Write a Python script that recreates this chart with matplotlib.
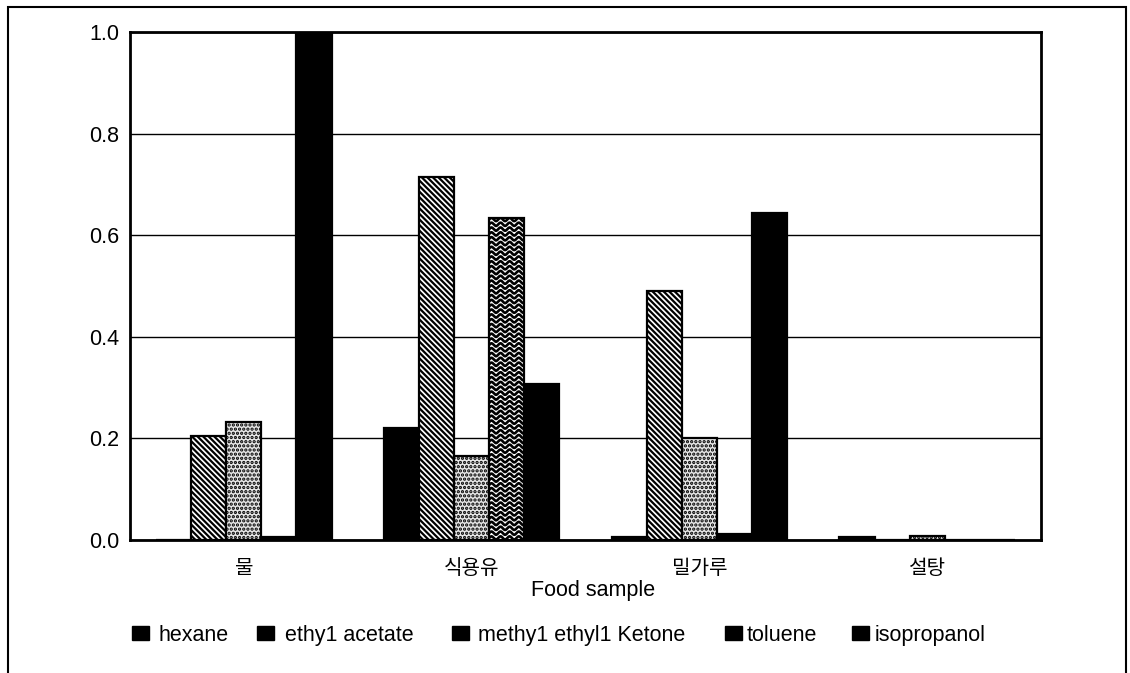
import numpy as np
import matplotlib
matplotlib.use("Agg")
import matplotlib.pyplot as plt
from matplotlib.patches import Rectangle

plt.rcParams["font.family"] = ["Liberation Sans", "Noto Sans CJK KR", "DejaVu Sans"]
plt.rcParams["hatch.linewidth"] = 1.6

CATEGORIES = ["물", "식용유", "밀가루", "설탕"]
SERIES = ["hexane", "ethy1 acetate", "methy1 ethyl1 Ketone", "toluene", "isopropanol"]
HEXANE = [0.0, 0.22, 0.005, 0.006]
ETHYL_ACETATE = [0.204, 0.715, 0.49, 0.0]
MEK = [0.233, 0.165, 0.20, 0.008]
TOLUENE = [0.005, 0.634, 0.012, 0.0]
ISOPROPANOL = [1.0, 0.307, 0.643, 0.0]
VALUES = [HEXANE, ETHYL_ACETATE, MEK, TOLUENE, ISOPROPANOL]

STYLES = [
    dict(facecolor="black", hatch=None),
    dict(facecolor="white", hatch=r"\\\\\\"),
    dict(facecolor="#e6e6e6", hatch="...."),
    dict(facecolor="white", hatch=None),      # wavy fill drawn below
    dict(facecolor="black", hatch=None),
]

fig = plt.figure(figsize=(11.3, 6.73), dpi=100)
ax = fig.add_axes([130/1130, 1 - 540/673, 911/1130, 508/673])

x = np.arange(len(CATEGORIES))
w = 0.154
bars_by_series = []
for i, (vals, st) in enumerate(zip(VALUES, STYLES)):
    bars = ax.bar(x + (i - 2) * w, vals, width=w, facecolor=st["facecolor"],
                  hatch=st["hatch"], edgecolor="black", linewidth=1.6, zorder=3)
    bars_by_series.append(bars)

# wavy pattern for toluene bars, clipped to each bar
for b in bars_by_series[3]:
    h = b.get_height()
    if h < 0.02:
        b.set_facecolor("black")
        continue
    x0, x1 = b.get_x(), b.get_x() + b.get_width()
    xs = np.linspace(x0, x1, 200)
    for yb in np.arange(0.004, h, 0.0095):
        line, = ax.plot(xs, yb + 0.0032 * np.sin(2 * np.pi * (xs - x0) / 0.04),
                        color="black", lw=1.9, zorder=4)
        line.set_clip_path(b)

ax.set_xlim(-0.5, 3.5)
ax.set_ylim(0, 1.0)
ax.set_yticks([0.0, 0.2, 0.4, 0.6, 0.8, 1.0])
ax.set_yticklabels(["0.0", "0.2", "0.4", "0.6", "0.8", "1.0"])
ax.set_xticks(x)
ax.set_xticklabels(CATEGORIES)
ax.tick_params(axis="both", length=0)
ax.tick_params(axis="y", pad=8, labelsize=15.5)
ax.tick_params(axis="x", pad=14, labelsize=14.5)
ax.yaxis.grid(True, color="black", lw=1.0, zorder=0)
ax.set_axisbelow(True)
for s in ax.spines.values():
    s.set_linewidth(2.0)
ax.set_xlabel("Food sample", fontsize=15.5)
ax.xaxis.set_label_coords((593 - 130) / 911, -0.078)

# outer frame
fig.patches.append(Rectangle((8/1130, -0.05), (1126 - 8)/1130, 1.05 - 7/673,
                             transform=fig.transFigure, fill=False,
                             edgecolor="black", lw=1.5))

# legend (all keys printed black)
LEG_SQ_X = [132, 257, 452, 725, 852]
LEG_TX_X = [158, 285, 478, 747, 875]
sq_y = 1 - 640/673
base_y = 1 - 641/673
for name, sx, tx in zip(SERIES, LEG_SQ_X, LEG_TX_X):
    fig.patches.append(Rectangle((sx/1130, sq_y), 17/1130, 14/673,
                                 transform=fig.transFigure, facecolor="black",
                                 edgecolor="black"))
    fig.text(tx/1130, base_y, name, fontsize=15.5, va="baseline", ha="left")

fig.savefig("out.png", dpi=100)
